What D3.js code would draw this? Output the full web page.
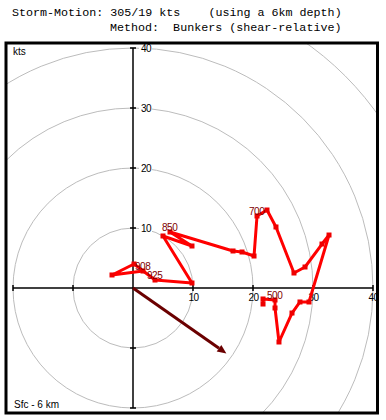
<!DOCTYPE html>
<html><head><meta charset="utf-8">
<script src="https://cdn.jsdelivr.net/npm/d3@7/dist/d3.min.js"></script>
<style>body{margin:0;background:#fff}svg{display:block}</style>
</head><body>
<script>
// ---- data ----
const titleLine1 = "Storm-Motion: 305/19 kts    (using a 6km depth)";
const titleLine2 = "Method:  Bunkers (shear-relative)";
const windU = [1.67,-3.5,0.17,3.67,9.83,5.0,9.83,6.17,16.67,18.17,20.17,20.67,22.33,23.83,26.83,28.67,31.5,32.67,29.33,27.83,26.5,24.33,23.67,23.67,21.67,21.67];
const windV = [2.83,2.17,4.0,1.33,0.83,8.67,7.0,9.33,6.17,6.0,5.33,12.0,13.0,10.17,2.5,3.5,7.33,8.83,-2.33,-2.33,-4.17,-9.0,-3.33,-2.0,-1.83,-2.67];
const levelLabels = ["908","925","850","700","500"];
const levelIndex = [0,3,7,11,23];
const ringSpeeds = [10,20,30,40,50];
const tickValues = [-20,-10,10,20,30,40];
const axisLabels = [10,20,30,40];
const stormDir = 305, stormSpd = 19;

// ---- drawing ----
const W=386,H=420;
const svg=d3.select("body").append("svg").attr("width",W).attr("height",H);
svg.append("rect").attr("width",W).attr("height",H).attr("fill","#fff");

const x=d3.scaleLinear().domain([-20,40]).range([13,373]);
const y=d3.scaleLinear().domain([-20,40]).range([408,48]);
const px=x(1)-x(0);

const mono="'Courier New','Liberation Mono',monospace";
const sans="Arial,'Liberation Sans',sans-serif";
svg.append("text").attr("x",12).attr("y",16).attr("font-family",mono).attr("font-size","11.7px").style("white-space","pre").text(titleLine1);
svg.append("text").attr("x",110).attr("y",31).attr("font-family",mono).attr("font-size","11.7px").style("white-space","pre").text(titleLine2);

svg.append("defs").append("clipPath").attr("id","c").append("rect")
  .attr("x",6).attr("y",43).attr("width",371.5).attr("height",370);
const g=svg.append("g").attr("clip-path","url(#c)");

g.selectAll("circle.ring").data(ringSpeeds).join("circle").attr("class","ring")
  .attr("cx",x(0)).attr("cy",y(0)).attr("r",d=>d*px)
  .attr("fill","none").attr("stroke","#bcbcbc").attr("stroke-width",1);

// axes
g.append("line").attr("x1",x(-20)).attr("x2",x(40)).attr("y1",y(0)).attr("y2",y(0)).attr("stroke","#000").attr("stroke-width",1.5);
g.append("line").attr("y1",y(-20)).attr("y2",y(40)).attr("x1",x(0)).attr("x2",x(0)).attr("stroke","#000").attr("stroke-width",1.5);
g.selectAll("line.tx").data(tickValues).join("line").attr("class","tx")
  .attr("x1",d=>x(d)).attr("x2",d=>x(d)).attr("y1",y(0)-3).attr("y2",y(0)+3).attr("stroke","#000").attr("stroke-width",1.5);
g.selectAll("line.ty").data(tickValues).join("line").attr("class","ty")
  .attr("y1",d=>y(d)).attr("y2",d=>y(d)).attr("x1",x(0)-3).attr("x2",x(0)+3).attr("stroke","#000").attr("stroke-width",1.5);

// axis labels with white background
const yl=g.selectAll("g.yl").data(axisLabels).join("g").attr("class","yl");
yl.append("rect").attr("x",x(0)+6).attr("y",d=>y(d)-6).attr("width",13).attr("height",12).attr("fill","#fff");
yl.append("text").attr("x",x(0)+8).attr("y",d=>y(d)+3.5).attr("font-family",sans).attr("font-size","10px").attr("letter-spacing","-0.6px").text(d=>d);
g.selectAll("text.xl").data(axisLabels).join("text").attr("class","xl")
  .attr("x",d=>x(d)+0.5).attr("y",y(0)+13).attr("text-anchor","middle").attr("font-family",sans).attr("font-size","10px").attr("letter-spacing","-0.6px").text(d=>d);

// storm motion arrow
const toDir=(stormDir+180)*Math.PI/180;
const su=stormSpd*Math.sin(toDir), sv=stormSpd*Math.cos(toDir);
const x0=x(0),y0=y(0),x1=x(su),y1=y(sv);
const ang=Math.atan2(y1-y0,x1-x0);
const hl=9,hw=4;
const bx=x1-hl*Math.cos(ang), by=y1-hl*Math.sin(ang);
g.append("line").attr("x1",x0).attr("y1",y0).attr("x2",bx).attr("y2",by).attr("stroke","#6b0000").attr("stroke-width",3);
g.append("path").attr("d",`M${x1},${y1}L${bx-hw*Math.sin(ang)},${by+hw*Math.cos(ang)}L${bx+hw*Math.sin(ang)},${by-hw*Math.cos(ang)}Z`).attr("fill","#6b0000");

// hodograph
const pts=windU.map((u,i)=>[u,windV[i]]);
g.append("path").attr("d",d3.line().x(d=>x(d[0])).y(d=>y(d[1]))(pts))
  .attr("fill","none").attr("stroke","#ff0000").attr("stroke-width",3).attr("stroke-linejoin","round");
g.selectAll("rect.pt").data(pts).join("rect").attr("class","pt")
  .attr("x",d=>x(d[0])-2.5).attr("y",d=>y(d[1])-2.5).attr("width",5).attr("height",5).attr("fill","#ee0000");
g.selectAll("text.lv").data(levelLabels).join("text").attr("class","lv")
  .attr("x",(d,i)=>x(windU[levelIndex[i]])-8).attr("y",(d,i)=>y(windV[levelIndex[i]])-1)
  .attr("font-family",sans).attr("font-size","10px").attr("letter-spacing","-0.5px").attr("fill","#800000").text(d=>d);

g.append("text").attr("x",13).attr("y",55).attr("font-family",sans).attr("font-size","10px").text("kts");
g.append("text").attr("x",14).attr("y",408).attr("font-family",sans).attr("font-size","10px").text("Sfc - 6 km");

// frame
svg.append("rect").attr("x",6).attr("y",43).attr("width",371.5).attr("height",370)
  .attr("fill","none").attr("stroke","#000").attr("stroke-width",3);
</script>
</body></html>
